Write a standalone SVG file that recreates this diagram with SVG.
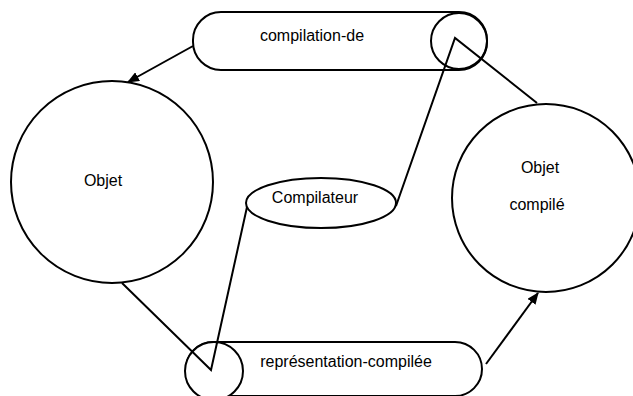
<svg xmlns="http://www.w3.org/2000/svg" width="633" height="396" viewBox="0 0 633 396">
<defs>
<style>
.shape{fill:none;stroke:#000;stroke-width:2}
.fill{fill:#fff;stroke:#000;stroke-width:2}
.conn{fill:none;stroke:#000;stroke-width:2}
text{font-family:"Liberation Sans",Arial,sans-serif;font-size:16px;fill:#000}
</style>
<marker id="arr" viewBox="0 0 12 10" refX="11" refY="5" markerWidth="12" markerHeight="10" markerUnits="userSpaceOnUse" orient="auto">
<path d="M0,0 L12,5 L0,10 Z" fill="#000"/>
</marker>
</defs>
<rect width="633" height="396" fill="#fff"/>
<g id="objet">
<circle class="shape" cx="112" cy="182" r="101"/>
<text x="103" y="186" text-anchor="middle">Objet</text>
</g>
<g id="objet-compile">
<circle class="shape" cx="546" cy="198" r="94"/>
<text x="540" y="173" text-anchor="middle">Objet</text>
<text x="537" y="210" text-anchor="middle">compilé</text>
</g>
<g id="compilation-de">
<rect class="shape" x="193" y="12" width="294" height="58" rx="28" ry="28"/>
<circle class="shape" cx="459" cy="41" r="28"/>
<text x="312" y="41" text-anchor="middle">compilation-de</text>
</g>
<g id="representation-compilee">
<rect class="shape" x="186" y="342" width="296" height="54" rx="27" ry="27"/>
<circle class="fill" cx="214" cy="371" r="29"/>
<text x="346" y="367" text-anchor="middle">représentation-compilée</text>
</g>
<g id="compilateur">
<ellipse class="shape" cx="321" cy="203" rx="75" ry="25"/>
<text x="315" y="203" text-anchor="middle">Compilateur</text>
</g>
<g id="connectors">
<line class="conn" x1="193" y1="46" x2="128" y2="82" marker-end="url(#arr)"/>
<line class="conn" x1="486" y1="364" x2="538" y2="293" marker-end="url(#arr)"/>
<polyline class="conn" points="537,103 455,38 396,206"/>
<polyline class="conn" points="122,283 211,370 247,207"/>
</g>
</svg>
